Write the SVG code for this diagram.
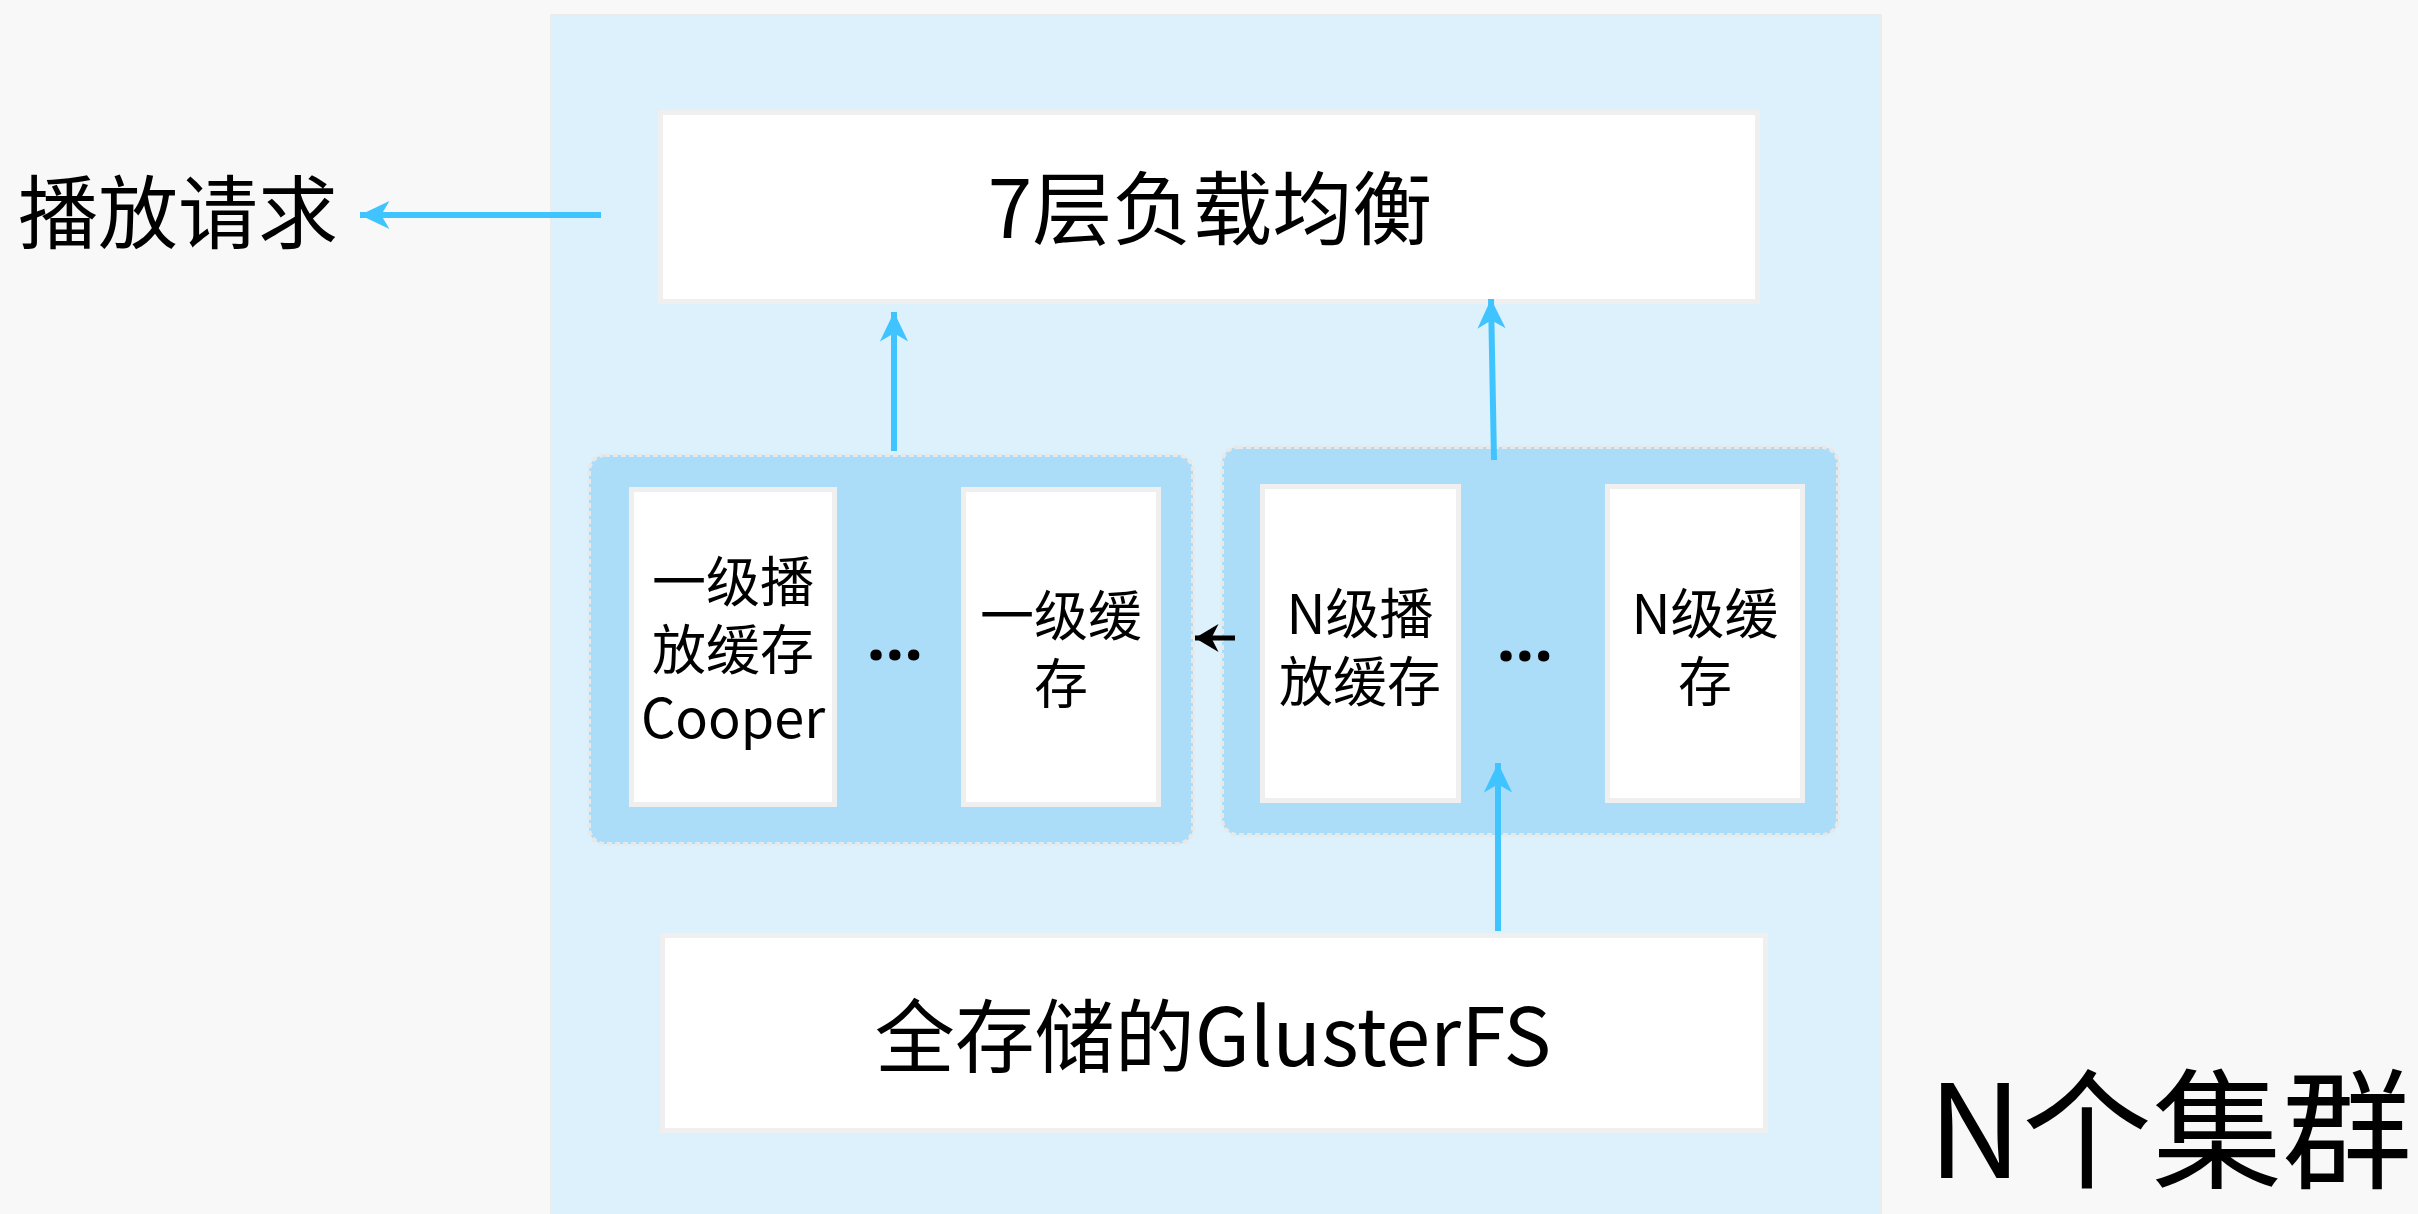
<svg xmlns="http://www.w3.org/2000/svg" width="2418" height="1214" viewBox="0 0 2418 1214">
<defs>
<style>
.t{font-family:"Noto Sans CJK SC","Noto Sans",sans-serif;fill:#000;}
.d{font-family:"Noto Sans",sans-serif;font-weight:bold;fill:#000;}
.box{fill:#fff;stroke:#efefef;stroke-width:5;}
.grp{fill:#abdcf8;stroke:#e8e8e8;stroke-width:4;stroke-dasharray:5 3;}
.blue{stroke:#40c4ff;stroke-width:6;fill:none;}
.blk{stroke:#000;stroke-width:5;fill:none;}
</style>
<marker id="ab" markerUnits="userSpaceOnUse" markerWidth="40" markerHeight="40" viewBox="-30 -15 34 30" refX="0" refY="0" orient="auto">
<path d="M0,0 L-25,-12 L-18,0 L-25,12 Z" fill="#40c4ff"/>
</marker>
<marker id="ak" markerUnits="userSpaceOnUse" markerWidth="40" markerHeight="40" viewBox="-30 -15 34 30" refX="0" refY="0" orient="auto">
<path d="M0,0 L-20,-12 L-14,0 L-20,12 Z" fill="#000"/>
</marker>
</defs>
<rect x="0" y="0" width="2418" height="1214" fill="#f8f8f8"/>
<g id="cluster">
<rect x="551" y="15" width="1330" height="1210" fill="#dcf1fb" stroke="#ececec" stroke-width="2"/>
</g>
<g id="lb">
<rect class="box" x="660.5" y="112.5" width="1097" height="189"/>
<text class="t" x="1210" y="238" font-size="80" text-anchor="middle">7层负载均衡</text>
</g>
<g id="group1">
<rect class="grp" x="589" y="455" width="604" height="389" rx="16"/>
</g>
<g id="group2">
<rect class="grp" x="1222" y="447" width="616" height="388" rx="16"/>
</g>
<g id="cache1">
<rect class="box" x="631.5" y="489.5" width="203" height="315"/>
<text class="t" x="733" y="602" font-size="54" text-anchor="middle">一级播</text>
<text class="t" x="733" y="670" font-size="54" text-anchor="middle">放缓存</text>
<text class="t" x="733" y="738" font-size="54" text-anchor="middle">Cooper</text>
</g>
<g id="dots1"><text class="d" x="895" y="660" font-size="66" text-anchor="middle">…</text></g>
<g id="cache1b">
<rect class="box" x="963.5" y="489.5" width="195" height="315"/>
<text class="t" x="1061" y="636" font-size="54" text-anchor="middle">一级缓</text>
<text class="t" x="1061" y="704" font-size="54" text-anchor="middle">存</text>
</g>
<g id="cacheN">
<rect class="box" x="1262.5" y="486.5" width="196" height="314"/>
<text class="t" x="1360" y="634" font-size="54" text-anchor="middle">N级播</text>
<text class="t" x="1360" y="702" font-size="54" text-anchor="middle">放缓存</text>
</g>
<g id="dots2"><text class="d" x="1525" y="661" font-size="66" text-anchor="middle">…</text></g>
<g id="cacheNb">
<rect class="box" x="1607.5" y="486.5" width="195" height="314"/>
<text class="t" x="1705" y="634" font-size="54" text-anchor="middle">N级缓</text>
<text class="t" x="1705" y="702" font-size="54" text-anchor="middle">存</text>
</g>
<g id="gluster">
<rect class="box" x="662.5" y="935.5" width="1103" height="195"/>
<text class="t" x="1213" y="1066" font-size="80" text-anchor="middle">全存储的GlusterFS</text>
</g>
<g id="request">
<text class="t" x="18" y="242" font-size="80">播放请求</text>
</g>
<g id="label">
<text class="t" x="2412" y="1178" font-size="130" text-anchor="end">N个集群</text>
</g>
<g id="connectors">
<line class="blue" x1="601" y1="215" x2="360" y2="215" marker-end="url(#ab)" stroke-width="7"/>
<line class="blue" x1="894" y1="451" x2="894" y2="312" marker-end="url(#ab)"/>
<line class="blue" x1="1494" y1="460" x2="1491" y2="299" marker-end="url(#ab)"/>
<line class="blue" x1="1498" y1="931" x2="1498" y2="763" marker-end="url(#ab)"/>
<line class="blk" x1="1235" y1="638" x2="1195" y2="638" marker-end="url(#ak)"/>
</g>
</svg>
